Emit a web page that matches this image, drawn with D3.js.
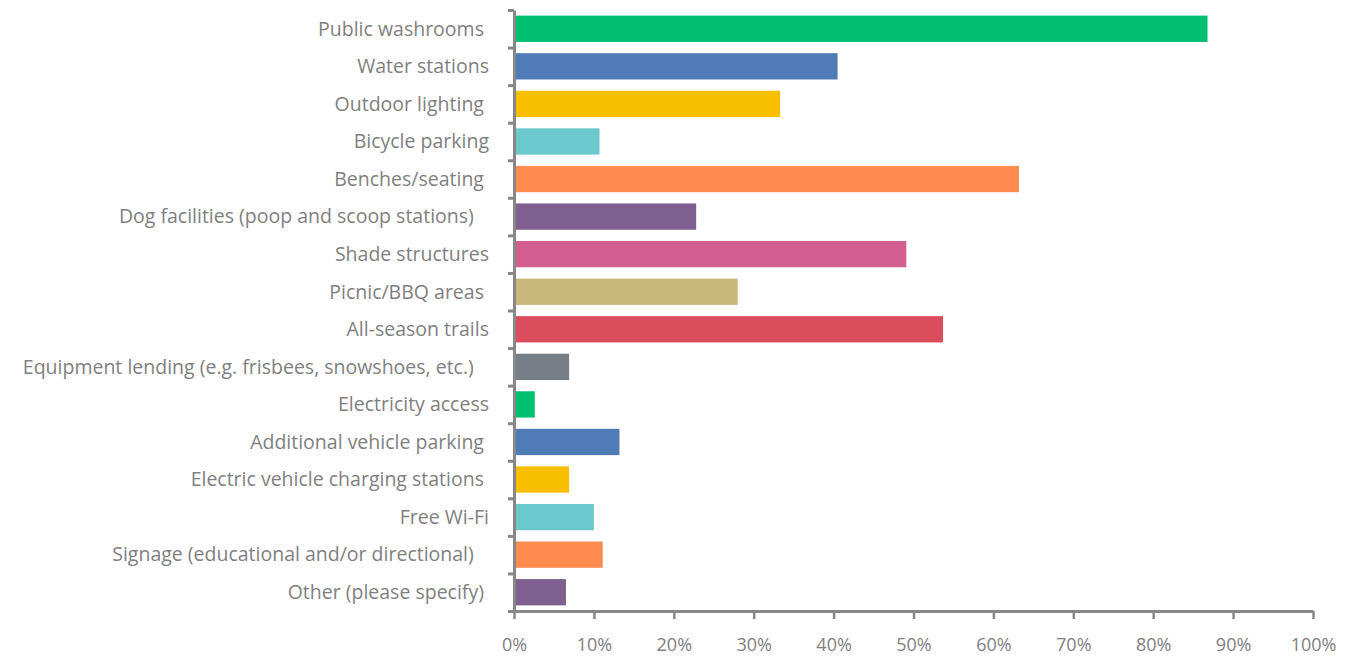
<!DOCTYPE html>
<html><head><meta charset="utf-8">
<script src="https://cdn.jsdelivr.net/npm/d3@7"></script>
<style>
html,body{margin:0;padding:0;background:#fff;}
svg text{white-space:pre;}
</style></head>
<body>
<svg id="chart" width="1345" height="657"></svg>
<script>
const categories = [
  "Public washrooms ",
  "Water stations",
  "Outdoor lighting ",
  "Bicycle parking",
  "Benches/seating ",
  "Dog facilities (poop and scoop stations)   ",
  "Shade structures",
  "Picnic/BBQ areas ",
  "All-season trails",
  "Equipment lending (e.g. frisbees, snowshoes, etc.)   ",
  "Electricity access",
  "Additional vehicle parking ",
  "Electric vehicle charging stations ",
  "Free Wi-Fi",
  "Signage (educational and/or directional)   ",
  "Other (please specify) "
];
const values = [86.8, 40.5, 33.3, 10.7, 63.2, 22.8, 49.1, 28.0, 53.7, 6.9, 2.6, 13.2, 6.9, 10.0, 11.1, 6.5];
const colors = ["#00BF6F","#4F7CB6","#F8BE00","#6BC8CD","#FF8B4F","#7E5F90","#D25F90","#C9B87B","#DB4D5C","#767E87","#00BF6F","#4F7CB6","#F8BE00","#6BC8CD","#FF8B4F","#7E5F90"];
const xTicks = [0,10,20,30,40,50,60,70,80,90,100];

const svg = d3.select("#chart");
const mLeft = 514, mRight = 1313, mTop = 10, mBottom = 611;
const x = d3.scaleLinear().domain([0,100]).range([mLeft,mRight]);
const y = d3.scaleBand().domain(d3.range(categories.length)).range([mTop,mBottom]).paddingInner(0.3).paddingOuter(0.15);
const axisColor = "#878787", textColor = "#7F7F7F";
const font = "'Open Sans', Lato, sans-serif";

// bars
svg.append("g").selectAll("rect").data(values).join("rect")
  .attr("x", x(0)+1)
  .attr("y", (d,i)=>y(i))
  .attr("width", d=>x(d)-x(0)-1)
  .attr("height", y.bandwidth())
  .attr("fill", (d,i)=>colors[i]);

// y axis with ticks at category boundaries
const yb = d3.scaleLinear().domain([0,categories.length]).range([mTop,mBottom]);
const gy = svg.append("g").attr("transform",`translate(${mLeft},0)`)
  .call(d3.axisLeft(yb).tickValues(d3.range(categories.length+1)).tickSize(6).tickSizeOuter(0).tickFormat(""));
gy.select(".domain").attr("stroke",axisColor).attr("stroke-width",3);
gy.selectAll(".tick line").attr("stroke",axisColor).attr("stroke-width",3);

// category labels
svg.append("g").selectAll("text").data(categories).join("text")
  .attr("x", 489)
  .attr("y", (d,i)=>y(i)+y.bandwidth()/2)
  .attr("dy","0.35em")
  .attr("text-anchor","end")
  .attr("font-family",font)
  .attr("font-size",19.5)
  .attr("fill",textColor)
  .text(d=>d);

// x axis
const gx = svg.append("g").attr("transform",`translate(0,${mBottom})`)
  .call(d3.axisBottom(x).tickValues(xTicks).tickSize(8).tickSizeOuter(0).tickFormat(d=>d+"%"));
gx.select(".domain").attr("stroke",axisColor).attr("stroke-width",3);
gx.selectAll(".tick line").attr("stroke",axisColor).attr("stroke-width",2.5);
gx.selectAll(".tick text").attr("y",34).attr("dy","0.35em")
  .attr("font-family",font).attr("font-size",18).attr("fill",textColor);
</script>
</body></html>
